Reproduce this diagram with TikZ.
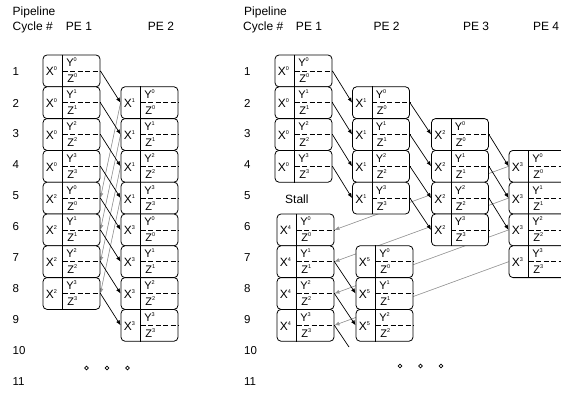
\documentclass[tikz,border=0pt]{standalone}
\usepackage{fontspec}
\setmainfont{Liberation Sans}
\usetikzlibrary{arrows.meta, backgrounds}
\definecolor{linkgray}{RGB}{150,150,150}

\newcommand{\supix}[1]{\raisebox{5pt}{\fontsize{5.5}{6}\selectfont#1}}
% one pipeline slot: name, x, row, X index, Y/Z index
\newcommand{\slotbox}[5]{%
  \node[slot] (#1) at (#2,{70.9+31.8*(#3-1)}) {};
  \draw[line width=0.6pt] ([xshift=20pt]#1.north west) -- ([xshift=20pt]#1.south west);
  \draw[line width=0.6pt,dash pattern=on 5pt off 2.5pt] ([xshift=20pt]#1.west) -- (#1.east);
  \node[xtxt] at ([xshift=3pt,yshift=-5pt]#1.west) {X\supix{#4}};
  \node[yztxt] at ([xshift=23.5pt,yshift=4pt]#1.west) {Y\supix{#5}};
  \node[yztxt] at ([xshift=24.5pt,yshift=-12pt]#1.west) {Z\supix{#5}};
}

\begin{document}
\begin{tikzpicture}[x=1pt,y=-1pt,
  slot/.style={draw,rounded corners=4pt,fill=white,minimum width=57pt,
               minimum height=31.8pt,inner sep=0pt,line width=0.8pt},
  xtxt/.style={anchor=base west,inner sep=0pt,font=\fontsize{12}{14}\selectfont},
  yztxt/.style={anchor=base west,inner sep=0pt,font=\fontsize{11}{13}\selectfont},
  head/.style={anchor=base west,inner sep=0pt,font=\fontsize{12}{14}\selectfont},
  pehead/.style={anchor=base,inner sep=0pt,font=\fontsize{12}{14}\selectfont},
  rowlab/.style={anchor=west,inner sep=0pt,font=\fontsize{11.5}{13}\selectfont},
  arr/.style={-{Latex[length=5pt,width=4pt]},line width=0.7pt},
  back/.style={-{Latex[length=5pt,width=4pt]},line width=0.6pt,draw=linkgray,fill=linkgray},
  dot/.style={circle,draw,inner sep=0pt,minimum size=3.8pt,line width=0.6pt}
]
\useasboundingbox (0,0) rectangle (561,396);

% Left: two PEs
\node[head] (lpipe) at (12.5,15.5) {Pipeline};
\node[head] (lcycle) at (12.5,30.5) {Cycle \#};
\node[pehead] (lpe1) at (79,30.5) {PE 1};
\node[pehead] (lpe2) at (161,30.5) {PE 2};
\foreach \r in {1,...,11} {
  \node[rowlab] (lrow\r) at (12.5,{72+31*(\r-1)}) {\r};
}

\foreach \r/\i in {1/0,2/1,3/2,4/3} { \slotbox{l1-\r}{71.5}{\r}{0}{\i} }
\foreach \r/\i in {5/0,6/1,7/2,8/3} { \slotbox{l1-\r}{71.5}{\r}{2}{\i} }
\foreach \r/\i in {2/0,3/1,4/2,5/3} { \slotbox{l2-\r}{149.5}{\r}{1}{\i} }
\foreach \r/\i in {6/0,7/1,8/2,9/3} { \slotbox{l2-\r}{149.5}{\r}{3}{\i} }

\foreach \a/\b in {1/2,2/3,3/4,4/5,5/6,6/7,7/8,8/9} {
  \draw[arr] (l1-\a.east) -- (l2-\b.west);
}
\begin{pgfonlayer}{background}
\foreach \a/\b in {2/5,3/6,4/7,5/8} {
  \draw[back] (l2-\a.west) -- (l1-\b.east);
}
\end{pgfonlayer}

\foreach \x in {86.5,107,127.5} { \node[dot] at (\x,368) {}; }

% Right: four PEs with stall
\node[head] (rpipe) at (244,15.5) {Pipeline};
\node[head] (rcycle) at (243,30.5) {Cycle \#};
\node[pehead] (rpe1) at (309,30.5) {PE 1};
\node[pehead] (rpe2) at (386.5,30.5) {PE 2};
\node[pehead] (rpe3) at (476,30.5) {PE 3};
\node[pehead] (rpe4) at (546,30.5) {PE 4};
\foreach \r in {1,...,11} {
  \node[rowlab] (rrow\r) at (244,{72+31*(\r-1)}) {\r};
}
\node[head] (stall) at (285,203.5) {Stall};

\foreach \r/\i in {1/0,2/1,3/2,4/3} { \slotbox{r1-\r}{303.5}{\r}{0}{\i} }
\foreach \r/\i in {6/0,7/1,8/2,9/3} { \slotbox{r1-\r}{305.5}{\r}{4}{\i} }
\foreach \r/\i in {2/0,3/1,4/2,5/3} { \slotbox{r2-\r}{381}{\r}{1}{\i} }
\foreach \r/\i in {7/0,8/1,9/2} { \slotbox{r2-\r}{384.5}{\r}{5}{\i} }
\foreach \r/\i in {3/0,4/1,5/2,6/3} { \slotbox{r3-\r}{460}{\r}{2}{\i} }
\foreach \r/\i in {4/0,5/1,6/2,7/3} { \slotbox{r4-\r}{537.5}{\r}{3}{\i} }

\foreach \a/\b in {1/2,2/3,3/4,4/5} { \draw[arr] (r1-\a.east) -- (r2-\b.west); }
\foreach \a/\b in {2/3,3/4,4/5,5/6} { \draw[arr] (r2-\a.east) -- (r3-\b.west); }
\foreach \a/\b in {3/4,4/5,5/6} { \draw[arr] (r3-\a.east) -- (r4-\b.west); }
\foreach \a/\b in {7/8,8/9} { \draw[arr] (r1-\a.east) -- (r2-\b.west); }
\coordinate (rcut) at (349,347);
\draw[line width=0.7pt] (r1-9.east) -- (rcut);

\begin{pgfonlayer}{background}
\foreach \a/\b in {4/6,5/7,6/8,7/9} {
  \draw[back] (r4-\a.west) -- (r1-\b.east);
}
\end{pgfonlayer}

\foreach \x in {400,420.5,441} { \node[dot] at (\x,366) {}; }

\end{tikzpicture}
\end{document}
